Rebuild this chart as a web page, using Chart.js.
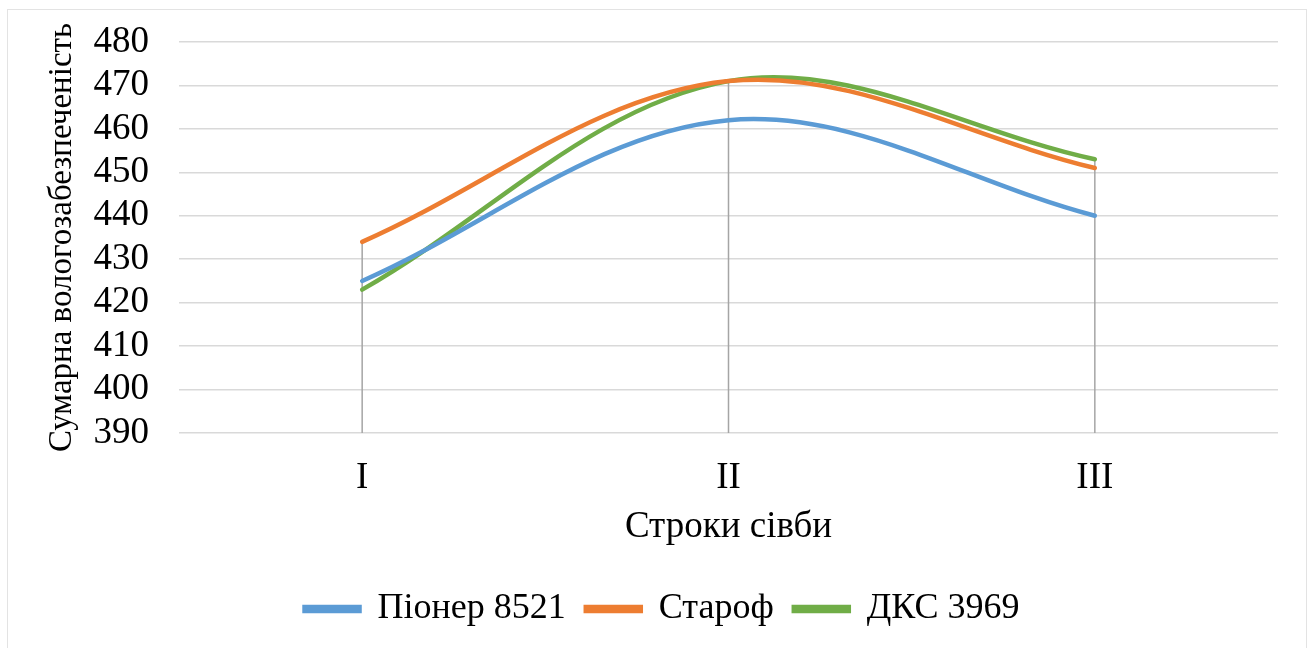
<!DOCTYPE html>
<html>
<head>
<meta charset="utf-8">
<script src="https://cdn.jsdelivr.net/npm/chart.js@4.4.1/dist/chart.umd.min.js"></script>
<style>
    html, body { margin: 0; padding: 0; background: #fff; }
    #frame {
        position: absolute; left: 7px; top: 9px; width: 1300px; height: 660px;
        border: 1.5px solid #e3e3e3; box-sizing: border-box;
    }
    #wrap { position: absolute; left: 0; top: 0; width: 1307px; height: 648px; }
</style>
</head>
<body>
<div id="frame"></div>
<div id="wrap"><canvas id="moistureChart"></canvas></div>
<script>
// Дані графіка
const categories = ['I', 'II', 'III'];
const pioneerValues = [425, 462, 440];
const starofValues = [434, 471, 451];
const dksValues = [423, 471, 453];
const yTicks = [390, 400, 410, 420, 430, 440, 450, 460, 470, 480];

const FONT = "'Liberation Serif', 'Times New Roman', serif";

// Вертикальні лінії від найвищої точки до осі
const dropLines = {
    id: 'dropLines',
    beforeDatasetsDraw(chart) {
        const { ctx, chartArea, scales } = chart;
        ctx.save();
        ctx.strokeStyle = '#a5a5a5';
        ctx.lineWidth = 1.5;
        categories.forEach((c, i) => {
            const top = Math.max(...chart.data.datasets.map(d => d.data[i]));
            const x = scales.x.getPixelForValue(i);
            ctx.beginPath();
            ctx.moveTo(x, scales.y.getPixelForValue(top));
            ctx.lineTo(x, chartArea.bottom);
            ctx.stroke();
        });
        ctx.restore();
    }
};

function makeSeries(label, data, color) {
    return {
        label: label,
        data: data,
        borderColor: color,
        backgroundColor: color,
        borderWidth: 4.5,
        borderCapStyle: 'round',
        pointRadius: 0,
        pointHoverRadius: 0,
        tension: 0.35,
        fill: false
    };
}

new Chart(document.getElementById('moistureChart'), {
    type: 'line',
    data: {
        labels: categories,
        datasets: [
            makeSeries('Піонер 8521', pioneerValues, '#5b9bd5'),
            makeSeries('Староф', starofValues, '#ed7d31'),
            makeSeries('ДКС 3969', dksValues, '#70ad47')
        ]
    },
    options: {
        responsive: true,
        maintainAspectRatio: false,
        animation: false,
        layout: {
            padding: { left: 46, right: 29, top: 42, bottom: 11 }
        },
        plugins: {
            tooltip: { enabled: false },
            legend: {
                position: 'bottom',
                labels: {
                    boxWidth: 55,
                    boxHeight: 4,
                    padding: 20,
                    color: '#000',
                    font: { family: FONT, size: 36, lineHeight: 1 }
                }
            }
        },
        scales: {
            y: {
                min: 390,
                max: 480,
                afterBuildTicks(scale) {
                    scale.ticks = yTicks.map(v => ({ value: v }));
                },
                afterFit(scale) {
                    scale.width = 179 - 46;
                    scale.paddingTop = 0;
                    scale.paddingBottom = 0;
                },
                border: { display: false },
                grid: { color: '#d9d9d9', lineWidth: 1.5, drawTicks: false },
                ticks: {
                    autoSkip: false,
                    color: '#000',
                    padding: 30,
                    font: { family: FONT, size: 37, lineHeight: 1 }
                },
                title: {
                    display: true,
                    text: 'Сумарна вологозабезпеченість',
                    color: '#000',
                    padding: 0,
                    font: { family: FONT, size: 33, lineHeight: 1 }
                }
            },
            x: {
                offset: true,
                border: { display: false },
                grid: { display: false, drawTicks: false },
                ticks: {
                    color: '#000',
                    padding: 27,
                    font: { family: FONT, size: 37, lineHeight: 1 }
                },
                title: {
                    display: true,
                    text: 'Строки сівби',
                    color: '#000',
                    padding: { top: -15, bottom: 25 },
                    font: { family: FONT, size: 37, lineHeight: 1 }
                }
            }
        }
    },
    plugins: [dropLines]
});
</script>
</body>
</html>
